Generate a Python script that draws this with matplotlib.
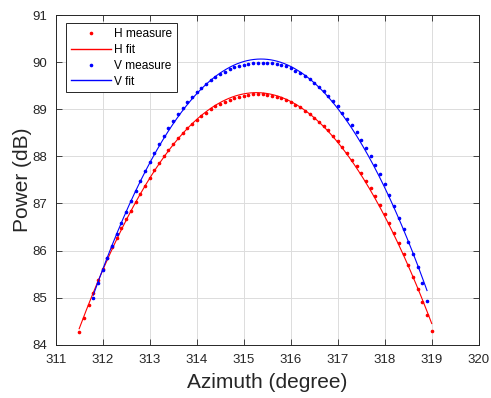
import numpy as np
import matplotlib
matplotlib.use("Agg")
import matplotlib.pyplot as plt

# measurement grid (degrees)
az_h = np.round(np.arange(311.5, 319.05, 0.1), 1)
az_v = np.round(np.arange(311.8, 318.95, 0.1), 1)

# H polarisation power (dB)
pow_h = [84.26, 84.57, 84.85, 85.10, 85.37, 85.61, 85.84, 86.07, 86.27, 86.47,
         86.66, 86.84, 87.02, 87.20, 87.38, 87.55, 87.71, 87.86, 88.00, 88.14,
         88.27, 88.39, 88.50, 88.60, 88.69, 88.78, 88.86, 88.93, 89.00, 89.06,
         89.11, 89.16, 89.20, 89.24, 89.27, 89.29, 89.31, 89.32, 89.32, 89.32,
         89.31, 89.29, 89.27, 89.24, 89.20, 89.15, 89.10, 89.04, 88.97, 88.90,
         88.82, 88.74, 88.65, 88.55, 88.44, 88.33, 88.20, 88.07, 87.93, 87.79,
         87.64, 87.48, 87.32, 87.15, 86.97, 86.78, 86.58, 86.37, 86.15, 85.92,
         85.69, 85.44, 85.18, 84.91, 84.62, 84.28]

# V polarisation power (dB)
pow_v = [84.99, 85.30, 85.58, 85.85, 86.10, 86.35, 86.59, 86.82, 87.05, 87.27,
         87.48, 87.69, 87.89, 88.08, 88.26, 88.44, 88.60, 88.76, 88.90, 89.03,
         89.15, 89.26, 89.36, 89.45, 89.54, 89.62, 89.69, 89.75, 89.80, 89.85,
         89.89, 89.92, 89.95, 89.97, 89.98, 89.99, 89.99, 89.99, 89.98, 89.96,
         89.94, 89.91, 89.87, 89.82, 89.77, 89.71, 89.64, 89.56, 89.48, 89.39,
         89.29, 89.18, 89.06, 88.93, 88.80, 88.66, 88.51, 88.35, 88.18, 88.00,
         87.81, 87.62, 87.41, 87.18, 86.94, 86.70, 86.45, 86.19, 85.92, 85.64,
         85.32, 84.92]

plt.rcParams['font.family'] = ['Liberation Sans', 'DejaVu Sans']
dark = '#262626'

fig = plt.figure(figsize=(4.91, 3.98), dpi=100)
ax = fig.add_axes([0.1134, 0.134, 0.8616, 0.828])


def quad_fit(x, y):
    p = np.polyfit(x, y, 2)
    xs = np.linspace(x[0], x[-1], 300)
    return xs, np.polyval(p, xs)


ax.plot(az_h, pow_h, '.', color='r', ms=3.2, label='H measure')
xh, yh = quad_fit(az_h, pow_h)
ax.plot(xh, yh, '-', color='r', lw=0.8, label='H fit')
ax.plot(az_v, pow_v, '.', color='b', ms=3.2, label='V measure')
xv, yv = quad_fit(az_v, pow_v)
ax.plot(xv, yv, '-', color='b', lw=0.8, label='V fit')

ax.set_xlim(311, 320)
ax.set_ylim(84, 91)
ax.set_xticks(np.arange(311, 321, 1))
ax.set_yticks(np.arange(84, 92, 1))
ax.grid(True, color='#dcdcdc', lw=0.7)
ax.set_axisbelow(True)
ax.tick_params(direction='in', length=4, width=0.6, colors=dark,
               labelsize=9.5, top=True, right=True)
ax.tick_params(axis='x', pad=7)
ax.tick_params(axis='y', pad=6)
for s in ax.spines.values():
    s.set_color(dark)
    s.set_linewidth(0.7)

ax.set_xlabel('Azimuth (degree)', fontsize=15, color=dark, labelpad=5)
ax.set_ylabel('Power (dB)', fontsize=15, color=dark, labelpad=0)

leg = ax.legend(loc='upper left', fontsize=8.6, frameon=True, fancybox=False,
                edgecolor=dark, framealpha=1, handlelength=3.4,
                bbox_to_anchor=(0.024, 0.975), borderaxespad=0,
                labelspacing=0.32, handletextpad=0.25, borderpad=0.4)
leg.get_frame().set_linewidth(0.7)
for h in leg.get_lines():
    h.set_linewidth(1.0)

fig.savefig('out.png', dpi=100)
